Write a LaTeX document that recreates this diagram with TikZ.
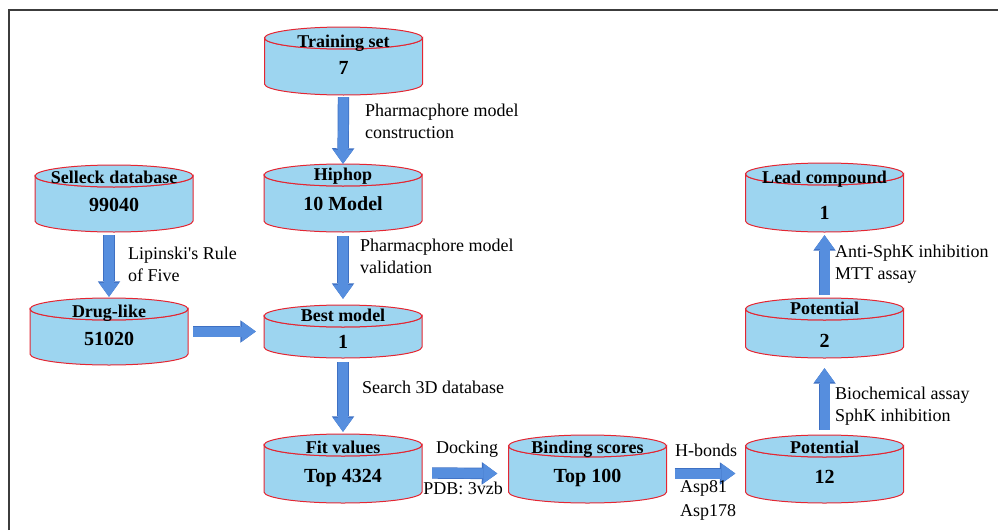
\documentclass[tikz,border=0pt]{standalone}
\usepackage{fontspec}
\setmainfont{Liberation Serif}
\usetikzlibrary{arrows.meta,calc}
\definecolor{cylfill}{RGB}{157,213,240}
\definecolor{cyledge}{RGB}{228,38,50}
\definecolor{arrowblue}{RGB}{86,142,222}
\definecolor{arrowedge}{RGB}{62,112,195}
\definecolor{framegray}{RGB}{60,60,60}
\tikzset{
  cylbody/.style={fill=cylfill, draw=cyledge, line width=1pt},
  cyltitle/.style={inner sep=0pt, anchor=base, font=\fontsize{18}{21}\selectfont\bfseries},
  cylnum/.style={inner sep=0pt, anchor=base, font=\fontsize{20}{22}\selectfont\bfseries},
  lbl/.style={inner sep=0pt, anchor=west, align=left, font=\fontsize{18}{22}\selectfont},
  cylbox/.style={inner sep=0pt, draw=none},
  barrow/.style={line width=10pt, draw=arrowblue,
    -{Triangle[width=20pt,length=14pt,line width=0pt]},
    preaction={draw=arrowedge, line width=11.4pt,
      -{Triangle[width=22.5pt,length=15.5pt,line width=0pt]}}}
}
% #1 name, #2 cx, #3 top y, #4 bottom y, #5 title y, #6 number y, #7 title, #8 number
\newcommand{\dbcyl}[8]{%
  \path[cylbody] ({#2-79},{-(#3)-11}) -- ({#2-79},{-(#4)+11})
    arc[start angle=180,end angle=360,x radius=79,y radius=11]
    -- ({#2+79},{-(#3)-11})
    arc[start angle=0,end angle=-180,x radius=79,y radius=11] -- cycle;
  \path[cylbody] (#2,{-(#3)-11}) ellipse[x radius=79,y radius=11];
  \node[cylbox, minimum width=158, minimum height={(#4)-(#3)}] (#1) at (#2,{-((#3)+(#4))/2}) {};
  \node[cyltitle] (#1-t) at (#2,{-(#5)-6}) {#7};
  \node[cylnum] (#1-n) at (#2,{-(#6)-7}) {#8};
}
\begin{document}
\begin{tikzpicture}[x=1pt,y=1pt]
\useasboundingbox (0,0) rectangle (998,-530);
\draw[framegray, line width=1.5pt] (9,-530) -- (9,-10) -- (998,-10);

\dbcyl{ts}{343.5}{27}{95}{41}{67}{Training set}{7}
\dbcyl{hp}{343}{164}{232}{174}{203}{Hiphop}{10 Model}
\dbcyl{bm}{343}{305}{358}{315}{341}{Best model}{1}
\dbcyl{sd}{114}{165}{232}{177}{204}{Selleck database}{99040}
\dbcyl{dl}{109}{298}{365}{311}{338}{Drug-like}{51020}
\dbcyl{fv}{343}{434}{503}{447}{475}{Fit values}{Top 4324}
\dbcyl{bs}{587.5}{435}{503}{447}{475}{Binding scores}{Top 100}
\dbcyl{pa}{824.5}{435}{503}{447}{476}{Potential}{12}
\dbcyl{pb}{824.5}{298}{358}{308}{340}{Potential}{2}
\dbcyl{lc}{824.5}{163}{232}{177}{212}{Lead compound}{1}

% connectors
\draw[barrow] ([yshift=-2]ts.south) -- (hp.north);
\draw[barrow] ([yshift=-4]hp.south) -- ([yshift=6]bm.north);
\draw[barrow] ([yshift=-4]bm.south) -- ([yshift=2]fv.north);
\draw[barrow] ([yshift=-3]dl.north |- sd.south) -- ([yshift=1]dl.north);
\draw[barrow] ([xshift=5]dl.east) -- ([xshift=-8]bm.west |- dl.east);
\draw[barrow] ([xshift=10,yshift=-4.5]fv.east) -- ([xshift=-11,yshift=-4.5]bs.west);
\draw[barrow] ([xshift=8,yshift=-4.5]bs.east) -- ([xshift=-10,yshift=-4.5]pa.west);
\draw[barrow] ([yshift=5]pa.north) -- ([yshift=-10]pb.south);
\draw[barrow] ([yshift=3]pb.north) -- ([yshift=-3]lc.south);

% labels
\node[lbl] (l1) at (365,-121) {Pharmacphore model\\construction};
\node[lbl] (l2) at (360,-256) {Pharmacphore model\\validation};
\node[lbl] (l3) at (362,-387) {Search 3D database};
\node[lbl, font=\fontsize{18}{22}\selectfont\addfontfeatures{Ligatures=TeXOff}] (l4) at (128,-264) {Lipinski's Rule\\of Five};
\node[lbl] (l5) at (835,-264.5) {Anti-SphK inhibition\\MTT assay};
\node[lbl] (l6) at (835,-406) {Biochemical assay\\SphK inhibition};
\node[lbl, anchor=center] (l7) at (467,-449) {Docking};
\node[lbl, anchor=center] (l8) at (463,-488) {PDB: 3vzb};
\node[lbl] (l9) at (675,-450) {H-bonds};
\node[lbl, font=\fontsize{18}{24}\selectfont] (l10) at (680,-500) {Asp81\\Asp178};
\end{tikzpicture}
\end{document}
